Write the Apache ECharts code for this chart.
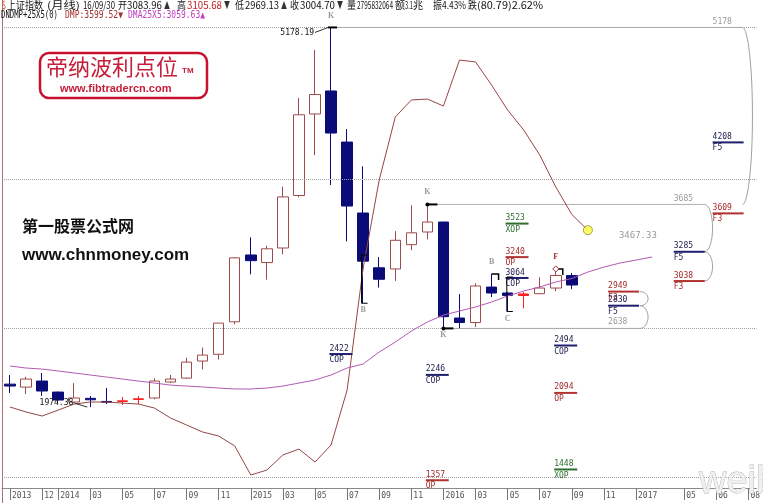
<!DOCTYPE html>
<html>
<head>
<meta charset="utf-8">
<script src="https://cdn.jsdelivr.net/npm/echarts@6/dist/echarts.min.js"></script>
<style>
html,body{margin:0;padding:0;background:#ffffff;}
#chart{width:763px;height:503px;}
</style>
</head>
<body>
<div id="chart"></div>
<script>
// ---------- categories & tick labels ----------
const categories = ['2013-10','2013-11','2013-12',
 '2014-01','2014-02','2014-03','2014-04','2014-05','2014-06','2014-07','2014-08','2014-09','2014-10','2014-11','2014-12',
 '2015-01','2015-02','2015-03','2015-04','2015-05','2015-06','2015-07','2015-08','2015-09','2015-10','2015-11','2015-12',
 '2016-01','2016-02','2016-03','2016-04','2016-05','2016-06','2016-07','2016-08','2016-09','2016-10','2016-11','2016-12',
 '2017-01','2017-02','2017-03','2017-04','2017-05','2017-06','2017-07','2017-08'];
const tickLabels = ['2013','','12','2014','','03','','05','','07','','09','','11','',
 '2015','','03','','05','','07','','09','','11','',
 '2016','','03','','05','','07','','09','','11','',
 '2017','','','05','','06','','08'];

// ---------- monthly candles (上证指数 月线) ----------
const opens  = [2168,2143,2194,2101,2017,2048,2022,2022,2039,2051,2186,2219,2363,2420,2694,3258,3194,3317,3760,4448,4642,4211,3612,3150,3140,3345,3452,3536,2726,2688,2987,2937,2916,2931,2979,3083.96];
const closes = [2152,2211,2110,2034,2051,2036,2016,2027,2044,2194,2211,2354,2413,2683,3234,3210,3310,3748,4441,4612,4287,3671,3206,3053,3382,3445,3536,2737,2688,2996,2937,2917,2929,2979,3085,3004.70];
const lows   = [2093,2085,2068,2010,2008,1974.38,2000,1992,2000,2040,2177,2212,2292,2376,2673,3095,3049,3264,3745,4100,3848,3373,2850.71,2983,3039,3300,3390,2638.3,2641,2650,2903,2781,2807,2928,2952,2969.13];
const highs  = [2245,2230,2262,2105,2177,2068,2135,2059,2068,2218,2245,2391,2477,2683,3239,3406,3336,3835,4583,4988,5178.19,4321,4006,3240,3459,3678,3684.57,3538,2928,3019,3098,2945,2945,3070,3140,3105.68];

// ---------- indicator lines ----------
const dmpValues = [1975,1933,1899,1949,2000,2017,2017,2008,2000,1966,1882,1823,1764,1730,1646,1401,1443,1570,1620,1511,1654,2118,3148,3891,4422,4566,4574,4515,4903,4887,4692,4481,4313,4102,3832,3599.52,3467.33];
const dmaValues = [2321,2304,2295,2279,2262,2245,2228,2211,2194,2177,2160,2152,2144,2135,2127,2127,2135,2152,2177,2203,2245,2304,2338,2439,2523,2616,2692,2751,2785,2819,2861,2912,2954,2988,3030,3059.63,3114,3156,3190,3215,3241];

// ---------- dotted reference levels ----------
const gridLevels = [5182, 3900, 2641, 1384];

// ---------- DiNapoli level labels ----------
const levelAt    = [19.9,25.9,25.9,30.87,30.87,30.87,33.9,33.9,33.9,43.77,43.77,41.35,41.35,37.26,37.26];
const levelPrice = [2422,2246,1357,3523,3240,3064,2494,2094,1448,4208,3609,3285,3038,2949,2830];
const levelTag   = ['COP','COP','OP','XOP','OP','COP','COP','OP','XOP','F5','F3','F5','F3','F3','F5'];

// ---------- swing reference lines ----------
const swingFrom   = [20, 26, 27];
const swingTo     = [45.63, 43.27, 39.25];
const swingPrice  = [5178.19, 3684.57, 2638.3];
const swingText   = ['5178','3685','2638'];
const swingTextAt = [43.77, 41.35, 37.26];

// ---------- bracket arcs ----------
const arcAt     = [45.63, 43.27, 43.27, 39.25, 39.25];
const arcTop    = [5178.19, 3684.57, 3285, 2949, 2830];
const arcBottom = [3684.57, 3285, 3038, 2830, 2638.3];

// ---------- extreme value labels ----------
const extremeAt    = [20, 5];
const extremePrice = [5178.19, 1974.38];
const extremeText  = ['5178.19', '1974.38'];
const extremeSide  = ['high', 'low'];

// ---------- letters ----------
const letterAt    = [20, 26, 27, 30, 31, 34, 22];
const letterPrice = [5178.19, 3684.57, 2638.3, 3098, 2781, 3140, 2850.71];
const letterText  = ['K','K','K','B','C','F','B'];
const letterSide  = ['above','above','below','above','below','above','below'];

// ---------- swing markers ----------
const markAt    = [20, 26, 27, 30, 34];
const markPrice = [5178.19, 3684.57, 2638.3, 3098, 3140];
const markKind  = ['tick','dot','dot','hook','diamond'];

// ---------- swing brackets ----------
const bracketAt     = [21.9, 30.95];
const bracketTop    = [3258, 3072];
const bracketBottom = [2850.71, 2781];

// ---------- projection point ----------
const projIndex = 36;
const projPrice = 3467.33;

// ================= build =================
const FONT_S = '8px "DejaVu Sans Mono"';
const UP = '#9c4a4a', DOWN = '#0b0b78';

const candleData = opens.map((o, i) => {
  const c = closes[i];
  const item = { value: [o, c, lows[i], highs[i]] };
  if (c >= o && c - o < 15) item.itemStyle = { color: '#ff2020', borderColor: '#ff2020' };
  return item;
});

function levelColors(tag) {
  if (tag === 'XOP') return ['#2e6e2e', '#2e6e2e'];
  if (tag === 'OP' || tag === 'F3') return ['#b23232', '#a52a2a'];
  return ['#1e1e6e', '#1a1a4a'];
}

const series = [
  {
    type: 'candlestick', xAxisIndex: 0, yAxisIndex: 0, barWidth: 11,
    data: candleData,
    itemStyle: { color: '#ffffff', color0: DOWN, borderColor: UP, borderColor0: DOWN, borderWidth: 1 },
    markLine: {
      silent: true, symbol: ['none', 'none'], label: { show: false },
      lineStyle: { type: 'dotted', color: '#a0a0a0', width: 1 },
      data: gridLevels.map(v => ({ yAxis: v }))
    },
    z: 3
  },
  {
    type: 'line', xAxisIndex: 0, yAxisIndex: 0, data: dmpValues, symbol: 'none',
    lineStyle: { color: '#964646', width: 1 }, z: 4
  },
  {
    type: 'line', xAxisIndex: 0, yAxisIndex: 0, data: dmaValues, symbol: 'none',
    lineStyle: { color: '#b45ab4', width: 1 }, z: 4
  },
  {
    type: 'scatter', xAxisIndex: 1, yAxisIndex: 0, data: [[projIndex, projPrice]],
    symbol: 'circle', symbolSize: 9,
    itemStyle: { color: '#ffff40', borderColor: '#8a8a30', borderWidth: 1 }, z: 6
  },
  // swing lines + gray texts
  {
    type: 'custom', xAxisIndex: 1, yAxisIndex: 0, z: 2,
    data: swingPrice.map((p, k) => [swingFrom[k], p, k]),
    renderItem: (params, api) => {
      const k = api.value(2);
      const a = api.coord([swingFrom[k], swingPrice[k]]);
      const b = api.coord([swingTo[k], swingPrice[k]]);
      const t = api.coord([swingTextAt[k], swingPrice[k]]);
      return { type: 'group', children: [
        { type: 'line', shape: { x1: a[0], y1: a[1], x2: b[0], y2: b[1] }, style: { stroke: '#b0b0b0', lineWidth: 1 } },
        { type: 'text', x: t[0], y: t[1] - 2, style: { text: swingText[k], fill: '#999999', font: FONT_S, align: 'left', verticalAlign: 'bottom' } }
      ]};
    }
  },
  // arcs
  {
    type: 'custom', xAxisIndex: 1, yAxisIndex: 0, z: 2,
    data: arcAt.map((a, k) => [a, arcTop[k], k]),
    renderItem: (params, api) => {
      const k = api.value(2);
      const t = api.coord([arcAt[k], arcTop[k]]);
      const b = api.coord([arcAt[k], arcBottom[k]]);
      const h = b[1] - t[1];
      const rx = h > 100 ? 10 : 8;
      const ry = h / 2, cy = t[1] + ry, x = t[0], K = 0.5523;
      return { type: 'group', children: [
        { type: 'bezierCurve', shape: { x1: x, y1: t[1], cpx1: x + K * rx, cpy1: t[1], cpx2: x + rx, cpy2: cy - K * ry, x2: x + rx, y2: cy }, style: { stroke: '#a0a0a0', fill: null, lineWidth: 1 } },
        { type: 'bezierCurve', shape: { x1: x + rx, y1: cy, cpx1: x + rx, cpy1: cy + K * ry, cpx2: x + K * rx, cpy2: b[1], x2: x, y2: b[1] }, style: { stroke: '#a0a0a0', fill: null, lineWidth: 1 } }
      ]};
    }
  },
  // level labels
  {
    type: 'custom', xAxisIndex: 1, yAxisIndex: 0, z: 5,
    data: levelAt.map((a, k) => [a, levelPrice[k], k]),
    renderItem: (params, api) => {
      const k = api.value(2);
      const p = api.coord([levelAt[k], levelPrice[k]]);
      const tag = levelTag[k];
      const c = levelColors(tag);
      const w = tag[0] === 'F' ? 31 : 23;
      return { type: 'group', children: [
        { type: 'line', shape: { x1: p[0], y1: p[1], x2: p[0] + w, y2: p[1] }, style: { stroke: c[0], lineWidth: 2 } },
        { type: 'text', x: p[0], y: p[1] - 1.5, style: { text: String(levelPrice[k]), fill: c[1], font: FONT_S, align: 'left', verticalAlign: 'bottom' } },
        { type: 'text', x: p[0], y: p[1] + 2, style: { text: tag, fill: c[1], font: FONT_S, align: 'left', verticalAlign: 'top' } }
      ]};
    }
  },
  // extreme labels
  {
    type: 'custom', xAxisIndex: 1, yAxisIndex: 0, z: 5,
    data: extremeAt.map((a, k) => [a, extremePrice[k], k]),
    renderItem: (params, api) => {
      const k = api.value(2);
      const p = api.coord([extremeAt[k], extremePrice[k]]);
      const dy = extremeSide[k] === 'high' ? 5 : -4;
      return { type: 'group', children: [
        { type: 'text', x: p[0] - 17, y: p[1] + dy, style: { text: extremeText[k], fill: '#111111', font: FONT_S, align: 'right', verticalAlign: 'middle' } },
        { type: 'line', shape: { x1: p[0] - 16, y1: p[1] + dy, x2: p[0] - 3, y2: p[1] }, style: { stroke: '#333333', lineWidth: 1 } }
      ]};
    }
  },
  // letters
  {
    type: 'custom', xAxisIndex: 1, yAxisIndex: 0, z: 5,
    data: letterAt.map((a, k) => [a, letterPrice[k], k]),
    renderItem: (params, api) => {
      const k = api.value(2);
      const p = api.coord([letterAt[k], letterPrice[k]]);
      const dy = letterSide[k] === 'above' ? -12 : 7;
      return { type: 'text', x: p[0], y: p[1] + dy, style: { text: letterText[k], fill: letterText[k] === 'F' ? '#a03030' : '#9a9a9a', font: 'bold 8px "Liberation Serif"', align: 'center', verticalAlign: 'middle' } };
    }
  },
  // swing markers
  {
    type: 'custom', xAxisIndex: 1, yAxisIndex: 0, z: 6,
    data: markAt.map((a, k) => [a, markPrice[k], k]),
    renderItem: (params, api) => {
      const k = api.value(2);
      const p = api.coord([markAt[k], markPrice[k]]);
      const kind = markKind[k];
      const ch = [];
      if (kind === 'tick') {
        ch.push({ type: 'line', shape: { x1: p[0] - 3, y1: p[1], x2: p[0] + 6, y2: p[1] }, style: { stroke: '#000', lineWidth: 2 } });
      } else if (kind === 'dot') {
        ch.push({ type: 'circle', shape: { cx: p[0], cy: p[1], r: 2 }, style: { fill: '#000' } });
        ch.push({ type: 'line', shape: { x1: p[0], y1: p[1], x2: p[0] + 10, y2: p[1] }, style: { stroke: '#000', lineWidth: 2 } });
      } else {
        ch.push({ type: 'polyline', shape: { points: [[p[0], p[1]], [p[0] + 7, p[1]], [p[0] + 7, p[1] + 6]] }, style: { stroke: '#000', fill: null, lineWidth: 1.5 } });
        if (kind === 'diamond') {
          ch.push({ type: 'polygon', shape: { points: [[p[0], p[1] - 3], [p[0] + 3, p[1]], [p[0], p[1] + 3], [p[0] - 3, p[1]]] }, style: { stroke: '#a03030', fill: '#ffffff', lineWidth: 1 } });
        }
      }
      return { type: 'group', children: ch };
    }
  },
  // swing brackets "["
  {
    type: 'custom', xAxisIndex: 1, yAxisIndex: 0, z: 6,
    data: bracketAt.map((a, k) => [a, bracketTop[k], k]),
    renderItem: (params, api) => {
      const k = api.value(2);
      const t = api.coord([bracketAt[k], bracketTop[k]]);
      const b = api.coord([bracketAt[k], bracketBottom[k]]);
      return { type: 'polyline', shape: { points: [[t[0] + 6, t[1]], [t[0], t[1]], [b[0], b[1]], [b[0] + 6, b[1]]] }, style: { stroke: '#000', fill: null, lineWidth: 1 } };
    }
  },
  // projection label
  {
    type: 'custom', xAxisIndex: 1, yAxisIndex: 0, z: 5,
    data: [[projIndex, projPrice]],
    renderItem: (params, api) => {
      const p = api.coord([api.value(0), api.value(1)]);
      return { type: 'text', x: p[0] + 31, y: p[1] + 5, style: { text: String(api.value(1)), fill: '#999999', font: '9px "DejaVu Sans Mono"', align: 'left', verticalAlign: 'middle' } };
    }
  }
];

// ---------- header text, fitted to measured widths ----------
const measureCtx = document.createElement('canvas').getContext('2d');
function fit(x, y, w, text, fill, font) {
  measureCtx.font = font;
  const m = measureCtx.measureText(text).width || 1;
  return { type: 'text', x: x, y: y, scaleX: w / m, silent: true, z: 20,
    style: { text: text, fill: fill, font: font, align: 'left', verticalAlign: 'top' } };
}
const H1 = '10px "Noto Sans CJK SC"';
const H2 = '10px "DejaVu Sans Mono"';
const headerLine1 = [
  [2, 4, '$', '#e03020'], [7, 36, '上证指数', '#111'], [47, 33, '(月线)', '#111'],
  [83, 32, '16/09/30', '#111'],
  [118, 9, '开', '#111'], [127, 35, '3083.96', '#111'], [164, 6, '▲', '#333'],
  [177, 9, '高', '#111'], [187, 35, '3105.68', '#c02020'], [224, 6, '▼', '#333'],
  [235, 9, '低', '#111'], [245, 34, '2969.13', '#111'], [281, 6, '▲', '#333'],
  [290, 9, '收', '#111'], [300, 35, '3004.70', '#111'], [337, 6, '▼', '#333'],
  [347, 9, '量', '#111'], [357, 36, '2795832064', '#111'],
  [395, 10, '额', '#111'], [405, 8, '3.1', '#111'], [413, 10, '兆', '#111'],
  [433, 9, '振', '#111'], [442, 24, '4.43%', '#111'],
  [468, 9, '跌', '#111'], [477, 66, '(80.79)2.62%', '#111']
];
const headerLine2 = [
  [1, 57, 'DNDMP+25X5(0)', '#111'],
  [65, 58, 'DMP:3599.52▼', '#a03030'],
  [128, 77, 'DMA25X5:3059.63▲', '#c040c0']
];

const graphics = [];
headerLine1.forEach(s => graphics.push(fit(s[0], 0, s[1], s[2], s[3], H1)));
headerLine2.forEach(s => graphics.push(fit(s[0], 10, s[1], s[2], s[3], H2)));
graphics.push(
  // left frame line
  { type: 'line', shape: { x1: 2.5, y1: 0, x2: 2.5, y2: 503 }, style: { stroke: '#b07070', lineWidth: 1 }, z: 1, silent: true },
  // logo box
  { type: 'rect', shape: { x: 40, y: 53, width: 167, height: 45, r: 9 }, style: { fill: '#ffffff', stroke: '#c8102e', lineWidth: 2.5 }, z: 10 },
  { type: 'text', x: 46, y: 56, style: { text: '帝纳波利点位', fill: '#c41e3a', font: '22px "Noto Sans CJK SC"' }, z: 11 },
  { type: 'text', x: 182, y: 67, style: { text: 'TM', fill: '#c41e3a', font: 'bold 8px "Liberation Sans"' }, z: 11 },
  { type: 'text', x: 60, y: 83, style: { text: 'www.fibtradercn.com', fill: '#c41e3a', font: 'bold 11px "Liberation Sans"' }, z: 11 },
  // site text
  { type: 'text', x: 22, y: 218, style: { text: '第一股票公式网', fill: '#111', font: 'bold 16px "Noto Sans CJK SC"' }, z: 11 },
  { type: 'text', x: 22, y: 247, style: { text: 'www.chnmoney.com', fill: '#111', font: 'bold 17px "Liberation Sans"' }, z: 11 },
  // watermark
  { type: 'text', x: 699, y: 464, style: { text: 'weibo', fill: '#f0f0f0', stroke: '#b4b4b4', lineWidth: 0.8, font: '38px "Liberation Sans"' }, z: 11 }
);

const option = {
  animation: false,
  backgroundColor: '#ffffff',
  grid: { left: 2, right: 3, top: 20, height: 468, containLabel: false },
  xAxis: [
    {
      type: 'category', data: categories, boundaryGap: true,
      axisLine: { show: true, onZero: false, lineStyle: { color: '#8a8a8a', width: 1 } },
      axisTick: { show: true, alignWithLabel: true, length: 12, interval: (i) => tickLabels[i] !== '', lineStyle: { color: '#777' } },
      axisLabel: { show: true, interval: (i) => tickLabels[i] !== '', formatter: (v, i) => tickLabels[i], align: 'left', margin: 4, padding: [0, 0, 0, 2], color: '#555', fontSize: 8, fontFamily: 'DejaVu Sans Mono' },
      splitLine: { show: false }
    },
    { type: 'value', min: -0.5, max: 46.5, show: false }
  ],
  yAxis: [
    { type: 'value', min: 1291.5, max: 5241, show: false, position: 'left',
      axisLine: { show: false, onZero: false }, axisLabel: { show: false }, axisTick: { show: false }, splitLine: { show: false } }
  ],
  series: series,
  graphic: graphics
};

const chart = echarts.init(document.getElementById('chart'));
chart.setOption(option);
</script>
</body>
</html>
